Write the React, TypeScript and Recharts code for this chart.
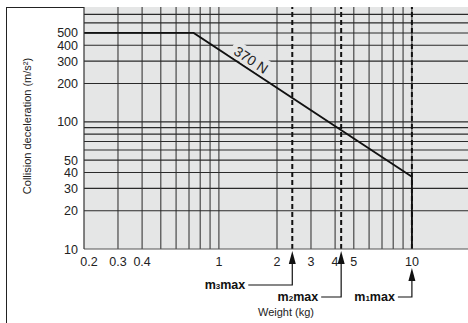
import React from "react";
import {
  LineChart,
  Line,
  XAxis,
  YAxis,
  CartesianGrid,
  ReferenceLine,
  ReferenceDot,
} from "recharts";

// 370 N impact curve: flat at 500 m/s² then a = F / m
const weights = [0.2, 0.74, 10, 10];
const accels = [500, 500, 37, 10];

const xTicks = [0.2, 0.3, 0.4, 1, 2, 3, 4, 5, 10];
const yTicks = [10, 20, 30, 40, 50, 100, 200, 300, 400, 500];

const gridX = [0.3, 0.4, 0.5, 0.6, 0.7, 0.8, 0.9, 1, 2, 3, 4, 5, 6, 7, 8, 9, 10];
const gridY = [20, 30, 40, 50, 60, 70, 80, 90, 100, 200, 300, 400, 500, 600, 700];

// max-weight markers (m3max, m2max, m1max)
const markerWeights = [2.4, 4.3, 10];
const markerSubs = ["3", "2", "1"];

const forceLabel = "370 N";
const forceLabelAt = { w: 1.47, a: 308 };

const curve = weights.map((w, i) => ({ w, a: accels[i] }));

const FONT = '"Liberation Sans", Arial, Helvetica, sans-serif';
const BG = "#e5e6e6";

// arrow geometry below the plot, one per marker
const markerStyle = [
  { tip: 2, elbow: 36, arm: 44 },
  { tip: 2, elbow: 48, arm: 20 },
  { tip: 19, elbow: 48, arm: 14 },
];

const XTick = (props: any) => {
  const { x, y, payload } = props;
  const dx = payload.value === xTicks[0] ? 5 : 0;
  return (
    <text x={x + dx} y={y} dy="0.71em" textAnchor="middle" fontSize={12.5} fontFamily={FONT} fill="#222">
      {payload.value}
    </text>
  );
};

const YTick = (props: any) => {
  const { x, y, payload } = props;
  return (
    <text x={x + 2} y={y} dy="0.36em" textAnchor="end" fontSize={12.5} fontFamily={FONT} fill="#222">
      {payload.value}
    </text>
  );
};

const markerLabel = (i: number) => (props: any) => {
  const vb = props.viewBox;
  const x = vb.x;
  const bottom = vb.y + vb.height;
  const s = markerStyle[i];
  const tip = bottom + s.tip;
  const elbow = bottom + s.elbow;
  return (
    <g>
      <path d={`M${x},${tip} L${x - 3.5},${tip + 13} L${x + 3.5},${tip + 13} Z`} fill="#111" />
      <path d={`M${x},${tip + 12} L${x},${elbow} L${x - s.arm},${elbow}`} fill="none" stroke="#111" strokeWidth={1.2} />
      <text x={x - s.arm - 3} y={elbow + 4} textAnchor="end" fontSize={12.5} fontWeight="bold" fontFamily={FONT} fill="#111">
        m<tspan fontSize={8}>{markerSubs[i]}</tspan>max
      </text>
    </g>
  );
};

const ForceText = (props: any) => {
  const { cx, cy } = props;
  return (
    <g transform={`translate(${cx},${cy}) rotate(33.4)`}>
      <rect x={-23} y={-9} width={46} height={17} fill={BG} />
      <text x={0} y={0} dy="0.36em" textAnchor="middle" fontSize={14} fontFamily={FONT} fill="#222">
        {forceLabel}
      </text>
    </g>
  );
};

export default function App() {
  return (
    <div
      style={{
        position: "absolute",
        left: 0,
        top: 0,
        width: 468,
        height: 323,
        overflow: "hidden",
        background: "#fff",
      }}
    >
      <div
        style={{
          position: "absolute",
          left: 6,
          top: 7,
          width: 470,
          height: 330,
          borderLeft: "1.3px solid #222",
          borderTop: "1.3px solid #222",
        }}
      />
      <div style={{ position: "absolute", left: 0, top: 0 }}>
        <LineChart width={470} height={323} data={curve} margin={{ top: 7, right: 0, left: 0, bottom: 0 }}>
          <CartesianGrid fill={BG} horizontal={false} vertical={false} stroke="none" />
          <XAxis
            type="number"
            dataKey="w"
            scale="log"
            domain={[0.2, 20]}
            ticks={xTicks}
            allowDataOverflow
            height={74}
            axisLine={{ stroke: "#555", strokeWidth: 1.2 }}
            tickLine={false}
            tick={<XTick />}
            interval={0}
            label={(p: any) => {
              const vb = p.viewBox;
              return (
                <text x={vb.x + 202} y={vb.y + 67} textAnchor="middle" fontSize={11} fontFamily={FONT} fill="#222">
                  Weight (kg)
                </text>
              );
            }}
          />
          <YAxis
            type="number"
            dataKey="a"
            scale="log"
            domain={[10, 800]}
            ticks={yTicks}
            allowDataOverflow
            width={84}
            axisLine={{ stroke: "#333", strokeWidth: 1.2 }}
            tickLine={false}
            tick={<YTick />}
            interval={0}
            label={(p: any) => {
              const vb = p.viewBox;
              const cx = vb.x + 27;
              const cy = vb.y + vb.height / 2 - 2;
              return (
                <text
                  x={cx}
                  y={cy}
                  transform={`rotate(-90, ${cx}, ${cy})`}
                  textAnchor="middle"
                  dy="0.36em"
                  fontSize={11}
                  fontFamily={FONT}
                  fill="#222"
                >
                  Collision deceleration (m/s²)
                </text>
              );
            }}
          />
          {gridX.map((v) => (
            <ReferenceLine key={"gx" + v} x={v} stroke="#3a3a3a" strokeWidth={1.1} />
          ))}
          {gridY.map((v) => (
            <ReferenceLine key={"gy" + v} y={v} stroke="#2a2a2a" strokeWidth={1.1} />
          ))}
          <ReferenceDot
            x={forceLabelAt.w}
            y={forceLabelAt.a}
            r={0}
            shape={(p: any) => <ForceText {...p} />}
          />
          {markerWeights.map((v, i) => (
            <ReferenceLine
              key={"m" + i}
              x={v}
              stroke="#111"
              strokeWidth={2}
              strokeDasharray="5 3"
              label={markerLabel(i)}
            />
          ))}
          <Line
            type="linear"
            dataKey="a"
            stroke="#111"
            strokeWidth={1.8}
            dot={false}
            isAnimationActive={false}
          />
        </LineChart>
      </div>
    </div>
  );
}
